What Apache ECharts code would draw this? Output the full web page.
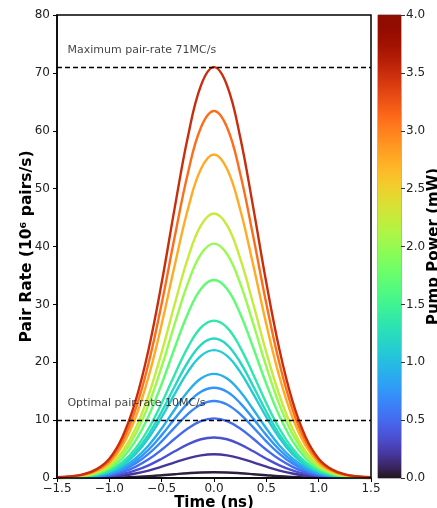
<!DOCTYPE html>
<html>
<head>
<meta charset="utf-8">
<script src="https://cdn.jsdelivr.net/npm/echarts@6/dist/echarts.min.js"></script>
<style>
  html, body { margin: 0; padding: 0; background: #fff; }
  #chart { width: 437px; height: 508px; }
</style>
</head>
<body>
<div id="chart"></div>
<script>
// time axis (ns)
const times = [-1.5, -1.375, -1.25, -1.125, -1.0, -0.875, -0.75, -0.625, -0.5, -0.375, -0.25, -0.125, 0,
               0.125, 0.25, 0.375, 0.5, 0.625, 0.75, 0.875, 1.0, 1.125, 1.25, 1.375, 1.5];

// pump power of each curve (mW)
const pumpPower = [0.05, 0.2, 0.35, 0.5, 0.65, 0.75, 0.9, 1.1, 1.2, 1.35, 1.7, 2.0, 2.25, 2.75, 3.1, 3.5];

// pair rate of each curve (10^6 pairs/s), one row per pump power
const pairRate = [
    [0.0, 0.0, 0.01, 0.02, 0.05, 0.1, 0.19, 0.31, 0.48, 0.66, 0.83, 0.96, 1.0, 0.96, 0.83, 0.66, 0.48, 0.31, 0.19, 0.1, 0.05, 0.02, 0.01, 0.0, 0.0],
    [0.01, 0.02, 0.04, 0.09, 0.19, 0.41, 0.77, 1.28, 1.95, 2.7, 3.4, 3.92, 4.1, 3.92, 3.4, 2.7, 1.95, 1.28, 0.77, 0.41, 0.19, 0.09, 0.04, 0.02, 0.01],
    [0.01, 0.03, 0.06, 0.15, 0.33, 0.7, 1.31, 2.19, 3.33, 4.61, 5.81, 6.69, 7.0, 6.69, 5.81, 4.61, 3.33, 2.19, 1.31, 0.7, 0.33, 0.15, 0.06, 0.03, 0.01],
    [0.02, 0.04, 0.09, 0.22, 0.48, 1.03, 1.93, 3.22, 4.89, 6.78, 8.55, 9.84, 10.3, 9.84, 8.55, 6.78, 4.89, 3.22, 1.93, 1.03, 0.48, 0.22, 0.09, 0.04, 0.02],
    [0.03, 0.05, 0.12, 0.28, 0.63, 1.33, 2.49, 4.16, 6.32, 8.75, 11.04, 12.7, 13.3, 12.7, 11.04, 8.75, 6.32, 4.16, 2.49, 1.33, 0.63, 0.28, 0.12, 0.05, 0.03],
    [0.03, 0.06, 0.14, 0.33, 0.73, 1.56, 2.92, 4.88, 7.41, 10.26, 12.95, 14.9, 15.6, 14.9, 12.95, 10.26, 7.41, 4.88, 2.92, 1.56, 0.73, 0.33, 0.14, 0.06, 0.03],
    [0.04, 0.07, 0.16, 0.38, 0.85, 1.8, 3.37, 5.63, 8.55, 11.84, 14.94, 17.19, 18.0, 17.19, 14.94, 11.84, 8.55, 5.63, 3.37, 1.8, 0.85, 0.38, 0.16, 0.07, 0.04],
    [0.04, 0.09, 0.2, 0.46, 1.04, 2.21, 4.13, 6.92, 10.5, 14.54, 18.34, 21.11, 22.1, 21.11, 18.34, 14.54, 10.5, 6.92, 4.13, 2.21, 1.04, 0.46, 0.2, 0.09, 0.04],
    [0.05, 0.1, 0.22, 0.51, 1.13, 2.41, 4.51, 7.54, 11.45, 15.86, 20.0, 23.02, 24.1, 23.02, 20.0, 15.86, 11.45, 7.54, 4.51, 2.41, 1.13, 0.51, 0.22, 0.1, 0.05],
    [0.05, 0.11, 0.24, 0.57, 1.28, 2.72, 5.09, 8.51, 12.92, 17.9, 22.58, 25.98, 27.2, 25.98, 22.58, 17.9, 12.92, 8.51, 5.09, 2.72, 1.28, 0.57, 0.24, 0.11, 0.05],
    [0.07, 0.14, 0.31, 0.72, 1.61, 3.42, 6.4, 10.7, 16.25, 22.5, 28.39, 32.66, 34.2, 32.66, 28.39, 22.5, 16.25, 10.7, 6.4, 3.42, 1.61, 0.72, 0.31, 0.14, 0.07],
    [0.08, 0.16, 0.36, 0.85, 1.9, 4.05, 7.57, 12.68, 19.24, 26.65, 33.62, 38.68, 40.5, 38.68, 33.62, 26.65, 19.24, 12.68, 7.57, 4.05, 1.9, 0.85, 0.36, 0.16, 0.08],
    [0.09, 0.18, 0.41, 0.96, 2.15, 4.57, 8.55, 14.3, 21.71, 30.07, 37.93, 43.64, 45.7, 43.64, 37.93, 30.07, 21.71, 14.3, 8.55, 4.57, 2.15, 0.96, 0.41, 0.18, 0.09],
    [0.11, 0.22, 0.5, 1.17, 2.63, 5.59, 10.45, 17.5, 26.55, 36.78, 46.4, 53.38, 55.9, 53.38, 46.4, 36.78, 26.55, 17.5, 10.45, 5.59, 2.63, 1.17, 0.5, 0.22, 0.11],
    [0.13, 0.25, 0.57, 1.33, 2.98, 6.34, 11.86, 19.84, 30.12, 41.72, 52.62, 60.55, 63.4, 60.55, 52.62, 41.72, 30.12, 19.84, 11.86, 6.34, 2.98, 1.33, 0.57, 0.25, 0.13],
    [0.14, 0.28, 0.64, 1.49, 3.34, 7.1, 13.28, 22.22, 33.73, 46.72, 58.93, 67.81, 71.0, 67.81, 58.93, 46.72, 33.73, 22.22, 13.28, 7.1, 3.34, 1.49, 0.64, 0.28, 0.14]
];

const rateLimits = [71, 10];
const notes = ["Maximum pair-rate 71MC/s", "Optimal pair-rate 10MC/s"];
const noteAt = [[-1.4, 74.0], [-1.4, 12.9]];

const powerMax = 4.0;

// turbo colormap (polynomial approximation)
function turbo(t) {
    t = Math.max(0, Math.min(1, t));
    const r = 0.13572138 + t * (4.61539260 + t * (-42.66032258 + t * (132.13108234 + t * (-152.94239396 + t * 59.28637943))));
    const g = 0.09140261 + t * (2.19418839 + t * (4.84296658 + t * (-14.18503333 + t * (4.27729857 + t * 2.82956604))));
    const b = 0.10667330 + t * (12.64194608 + t * (-60.58204836 + t * (110.36276771 + t * (-89.90310912 + t * 27.34824973))));
    const c = v => Math.round(255 * Math.max(0, Math.min(1, v)));
    return "rgb(" + c(r) + "," + c(g) + "," + c(b) + ")";
}

const minus = v => v.toFixed(1).replace("-", "\u2212");
const font = "DejaVu Sans";

const series = [];

pumpPower.forEach((p, k) => {
    series.push({
        type: "line",
        xAxisIndex: 0,
        yAxisIndex: 0,
        smooth: 0.4,
        showSymbol: false,
        symbol: "none",
        data: times.map((t, i) => [t, pairRate[k][i]]),
        lineStyle: { width: 2.4, color: turbo(p / powerMax) },
        z: 2
    });
});

series.push({
    type: "line",
    data: [],
    markLine: {
        silent: true,
        symbol: "none",
        label: { show: false },
        lineStyle: { color: "#000", width: 1.3, type: [5, 3] },
        data: rateLimits.map(v => ({ yAxis: v }))
    },
    z: 3
});

series.push({
    type: "scatter",
    symbolSize: 0,
    data: noteAt.map((c, i) => [c[0], c[1], notes[i]]),
    label: {
        show: true,
        position: [0, 0],
        align: "left",
        verticalAlign: "middle",
        formatter: d => d.value[2],
        fontFamily: font,
        fontSize: 11,
        color: "#111"
    },
    z: 5
});

// colour bar
const stops = [];
for (let i = 0; i <= 40; i++) {
    stops.push({ offset: i / 40, color: turbo(1 - i / 40) });
}

series.push({
    type: "bar",
    xAxisIndex: 1,
    yAxisIndex: 1,
    data: [powerMax],
    barWidth: "100%",
    silent: true,
    itemStyle: {
        color: new echarts.graphic.LinearGradient(0, 0, 0, 1, stops)
    }
});

const chart = echarts.init(document.getElementById("chart"), null, { renderer: "canvas" });

chart.setOption({
    animation: false,
    backgroundColor: "#fff",
    grid: [
        { left: 57, right: 66, top: 15, bottom: 30, outerBoundsMode: "none", containLabel: false, show: true, borderColor: "#000", borderWidth: 1.5, backgroundColor: "transparent", z: 4 },
        { left: 378, width: 23, top: 15, bottom: 30, outerBoundsMode: "none", containLabel: false, show: true, borderColor: "#444", borderWidth: 0.8 }
    ],
    xAxis: [
        {
            gridIndex: 0,
            type: "value",
            min: -1.5,
            max: 1.5,
            interval: 0.5,
            name: "Time (ns)",
            nameLocation: "middle",
            nameGap: 18,
            nameMoveOverlap: false,
            nameTextStyle: { fontFamily: font, fontSize: 15, fontWeight: "bold", color: "#000", verticalAlign: "top" },
            axisLine: { show: true, onZero: false, lineStyle: { color: "#000", width: 1.5 } },
            axisTick: { show: true, length: 4, lineStyle: { color: "#000" } },
            axisLabel: { fontFamily: font, fontSize: 12, color: "#222", margin: 5, formatter: minus, showMinLabel: true, showMaxLabel: true },
            splitLine: { show: false }
        },
        {
            gridIndex: 1,
            type: "category",
            data: ["p"],
            show: false
        }
    ],
    yAxis: [
        {
            gridIndex: 0,
            type: "value",
            min: 0,
            max: 80,
            interval: 10,
            name: "Pair Rate (10\u2076 pairs/s)",
            nameLocation: "middle",
            nameGap: 22,
            nameMoveOverlap: false,
            nameTextStyle: { fontFamily: font, fontSize: 15.5, fontWeight: "bold", color: "#000" },
            axisLine: { show: true, onZero: false, lineStyle: { color: "#000", width: 1.5 } },
            axisTick: { show: true, length: 4, lineStyle: { color: "#000" } },
            axisLabel: { fontFamily: font, fontSize: 12, color: "#222", margin: 7 },
            splitLine: { show: false }
        },
        {
            gridIndex: 1,
            type: "value",
            position: "right",
            min: 0,
            max: powerMax,
            interval: 0.5,
            name: "Pump Power (mW)",
            nameLocation: "middle",
            nameRotate: 90,
            nameGap: 25.5,
            nameMoveOverlap: false,
            nameTextStyle: { fontFamily: font, fontSize: 15, fontWeight: "bold", color: "#000" },
            axisLine: { show: false },
            axisTick: { show: true, length: 4, lineStyle: { color: "#333" } },
            axisLabel: { fontFamily: font, fontSize: 12, color: "#222", margin: 5, formatter: v => v.toFixed(1) },
            splitLine: { show: false }
        }
    ],
    series: series
});
</script>
</body>
</html>
